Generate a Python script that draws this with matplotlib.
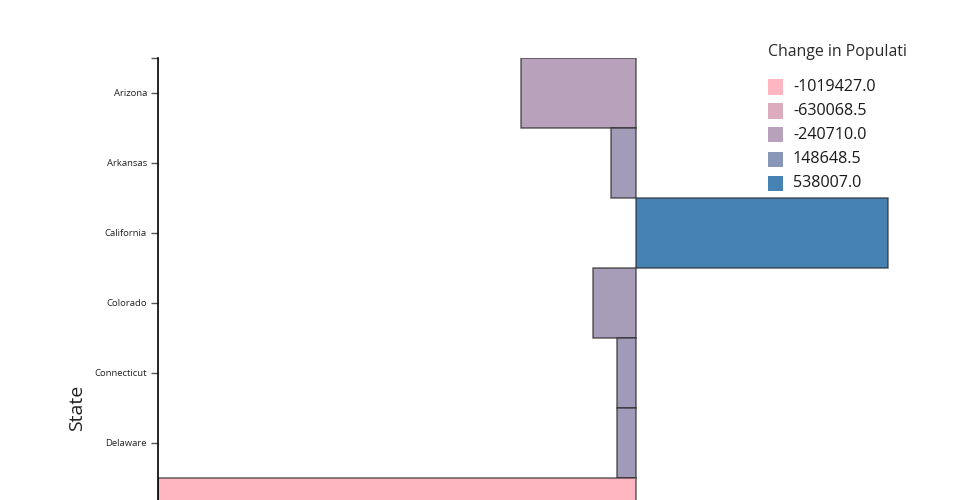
import numpy as np
import matplotlib
matplotlib.use("Agg")
import matplotlib.pyplot as plt
from matplotlib.colors import LinearSegmentedColormap, Normalize
from matplotlib.patches import Rectangle

plt.rcParams['font.family'] = ['Open Sans', 'DejaVu Sans']

# ---- data ----
states = ["Arizona", "Arkansas", "California", "Colorado", "Connecticut", "Delaware", "Florida"]
change = [-245000, -53000, 538007, -92000, -40000, -40000, -1019427]
legend_title = "Change in Populati"
n_rows = 10  # category axis extends below the visible area

# colour scale (lightpink -> steelblue)
scale_colors = ["#FFB6C1", "#DCABBD", "#B8A1BA", "#8B96B8", "#4682B4"]
cmap = LinearSegmentedColormap.from_list("pinkblue", scale_colors)
vmin, vmax = min(change), max(change)
norm = Normalize(vmin=vmin, vmax=vmax)

W, H = 960, 500
fig = plt.figure(figsize=(W / 100, H / 100), dpi=100)

left_px, right_px, top_px = 158, 900, 58
row_px = 70
bottom_px = top_px + n_rows * row_px
ax = fig.add_axes([left_px / W, 1 - bottom_px / H, (right_px - left_px) / W, (bottom_px - top_px) / H])

zero_px = 636
xmin = vmin
xmax = (right_px - zero_px) / (zero_px - left_px) * (-vmin)
ax.set_xlim(xmin, xmax)
ax.set_ylim(n_rows - 0.5, -0.5)

y = np.arange(len(states))
ax.barh(y, change, height=1.0, color=cmap(norm(np.array(change))),
        edgecolor=(0.15, 0.15, 0.15, 0.7), linewidth=1.1, zorder=2)

ax.set_yticks(y)
ax.set_yticklabels(states, fontsize=6.8, color="#222222")
# labels of rows that fall below the visible figure are not drawn
fig.canvas.draw()
for lbl, pos in zip(ax.get_yticklabels(), y):
    if ax.transData.transform((0, pos))[1] < 5:
        lbl.set_visible(False)
ax.set_yticks([-0.5], minor=True)
ax.tick_params(axis="y", which="both", length=5, width=1, color="#555555", pad=3)
ax.set_xticks([])
for s in ["top", "right", "bottom"]:
    ax.spines[s].set_visible(False)
ax.spines["left"].set_linewidth(1.2)
ax.spines["left"].set_color("black")
ax.set_ylabel("State", fontsize=14, color="#222222", labelpad=6)

# ---- legend ----
fig.text(768 / W, 1 - 52 / H, legend_title, fontsize=11.4, color="#2a2a2a", va="center", ha="left")
leg_vals = np.linspace(vmin, vmax, 5)
for i, v in enumerate(leg_vals):
    cy = 87 + 24 * i
    fig.add_artist(Rectangle((768 / W, 1 - (cy + 7.5) / H), 15 / W, 15 / H,
                             transform=fig.transFigure, facecolor=cmap(norm(v)), edgecolor="none"))
    fig.text(793 / W, 1 - cy / H, f"{v:.1f}", fontsize=11.6, color="#1a1a1a", va="center", ha="left")

fig.savefig("out.png", dpi=100)
